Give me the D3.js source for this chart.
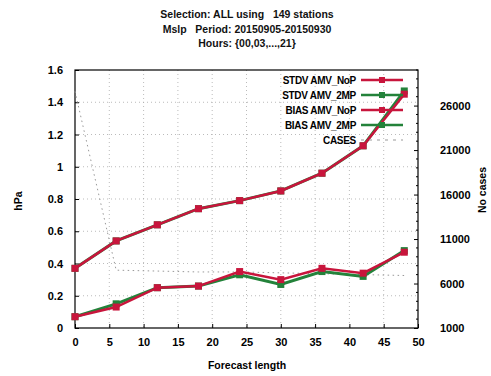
<!DOCTYPE html>
<html><head><meta charset="utf-8">
<script src="https://cdn.jsdelivr.net/npm/d3@7"></script>
<style>body{margin:0;background:#fff}svg{display:block}text{font-family:"Liberation Sans",Arial,sans-serif;white-space:pre}</style>
</head><body><svg id="c" width="491" height="376"></svg>
<script>
const titleLines = ["Selection: ALL using   149 stations","Mslp   Period: 20150905-20150930","Hours: {00,03,...,21}"];
const leadTimes = [0,6,12,18,24,30,36,42,48];
const stdvNoP = [0.37,0.54,0.64,0.74,0.79,0.85,0.96,1.13,1.45];
const stdv2MP = [0.37,0.54,0.64,0.74,0.79,0.85,0.96,1.13,1.47];
const biasNoP = [0.07,0.13,0.25,0.26,0.35,0.30,0.37,0.34,0.47];
const bias2MP = [0.07,0.15,0.25,0.26,0.33,0.27,0.35,0.32,0.48];
const cases = [27600,7500,7400,7300,7300,7200,7100,7000,6900];
const xTicks = d3.range(0,51,5);
const yTicks = [0,0.2,0.4,0.6,0.8,1,1.2,1.4,1.6];
const y2Ticks = [1000,6000,11000,16000,21000,26000];
const legendLabels = ["STDV AMV_NoP","STDV AMV_2MP","BIAS AMV_NoP","BIAS AMV_2MP","CASES"];

const svg = d3.select("#c");
const L=75,R=418,T=70,B=328;
const x = d3.scaleLinear().domain([0,50]).range([L,R]);
const y = d3.scaleLinear().domain([0,1.6]).range([B,T]);
const y2 = d3.scaleLinear().domain([1000,30000]).range([B,T]);
const red="#c8153c", green="#23823a";

svg.selectAll(".tt").data(titleLines).enter().append("text")
  .attr("x",247).attr("y",(d,i)=>18+i*14.5).attr("text-anchor","middle")
  .attr("font-size",10.5).attr("font-weight","bold").attr("fill","#111").text(d=>d);

const g = svg.append("g");
g.selectAll(".gx").data(xTicks.slice(1,-1)).enter().append("line")
  .attr("x1",d=>x(d)).attr("x2",d=>x(d)).attr("y1",T).attr("y2",B)
  .attr("stroke","#aaa").attr("stroke-width",0.8).attr("stroke-dasharray","1,3");
g.selectAll(".gy").data(yTicks.slice(1,-1)).enter().append("line")
  .attr("x1",L).attr("x2",R).attr("y1",d=>y(d)).attr("y2",d=>y(d))
  .attr("stroke","#aaa").attr("stroke-width",0.8).attr("stroke-dasharray","1,3");

const ax = svg.append("g").attr("transform",`translate(0,${B})`)
  .call(d3.axisBottom(x).tickValues(xTicks).tickSize(-4).tickPadding(10).tickSizeOuter(0));
const ay = svg.append("g").attr("transform",`translate(${L},0)`)
  .call(d3.axisLeft(y).tickValues(yTicks).tickSize(-4).tickPadding(12).tickSizeOuter(0).tickFormat(d=>String(+d.toFixed(1))));
const ay2 = svg.append("g").attr("transform",`translate(${R},0)`)
  .call(d3.axisRight(y2).tickValues(y2Ticks).tickSize(-4).tickPadding(22).tickSizeOuter(0).tickFormat(d3.format("d")));
svg.append("g").selectAll("line").data(d3.range(2000,30001,1000).filter(v=>v%5000!==1000)).enter().append("line")
  .attr("x1",R).attr("x2",R-2).attr("y1",d=>y2(d)).attr("y2",d=>y2(d)).attr("stroke","#000");
[ax,ay,ay2].forEach(a=>{
  a.select(".domain").remove();
  a.selectAll("text").attr("font-size",11).attr("font-weight","bold").attr("fill","#000").attr("font-family","Liberation Sans");
  a.selectAll("line").attr("stroke","#000");
});
svg.append("rect").attr("x",L).attr("y",T).attr("width",R-L).attr("height",B-T)
  .attr("fill","none").attr("stroke","#000").attr("stroke-width",1.2);

svg.append("text").attr("x",247).attr("y",369).attr("text-anchor","middle")
  .attr("font-size",10.5).attr("font-weight","bold").text("Forecast length");
svg.append("text").attr("transform","translate(22,201) rotate(-90)").attr("text-anchor","middle")
  .attr("font-size",10.5).attr("font-weight","bold").text("hPa");
svg.append("text").attr("transform","translate(486,190) rotate(-90)").attr("text-anchor","middle")
  .attr("font-size",10.5).attr("font-weight","bold").text("No cases");

const line2 = d3.line().x((d,i)=>x(leadTimes[i])).y(d=>y2(d));
svg.append("path").datum(cases).attr("d",line2).attr("fill","none")
  .attr("stroke","#999").attr("stroke-width",1).attr("stroke-dasharray","1.5,3.5");

const line = d3.line().x((d,i)=>x(leadTimes[i])).y(d=>y(d));
function series(vals,color,w){
  svg.append("path").datum(vals).attr("d",line).attr("fill","none").attr("stroke",color).attr("stroke-width",w);
  svg.append("g").selectAll("rect").data(vals).enter().append("rect")
    .attr("x",(d,i)=>x(leadTimes[i])-3.5).attr("y",d=>y(d)-3.5).attr("width",7).attr("height",7).attr("fill",color);
}
series(stdv2MP,green,3);
series(bias2MP,green,3);
series(stdvNoP,red,2.5);
series(biasNoP,red,2.5);

const legColors=[red,green,red,green,"#999"];
const lg = svg.append("g");
legendLabels.forEach((t,i)=>{
  const yy = 80+i*15;
  lg.append("text").attr("x",356).attr("y",yy+3.5).attr("text-anchor","end")
    .attr("font-size",10).attr("font-weight","bold").attr("letter-spacing",-0.3).text(t);
  if(i<4){
    lg.append("line").attr("x1",361).attr("x2",403).attr("y1",yy).attr("y2",yy).attr("stroke",legColors[i]).attr("stroke-width",2.5);
    lg.append("rect").attr("x",379).attr("y",yy-3).attr("width",6).attr("height",6).attr("fill",legColors[i]);
  } else {
    lg.append("line").attr("x1",361).attr("x2",403).attr("y1",yy).attr("y2",yy).attr("stroke","#999").attr("stroke-dasharray","3,5");
  }
});
</script></body></html>
